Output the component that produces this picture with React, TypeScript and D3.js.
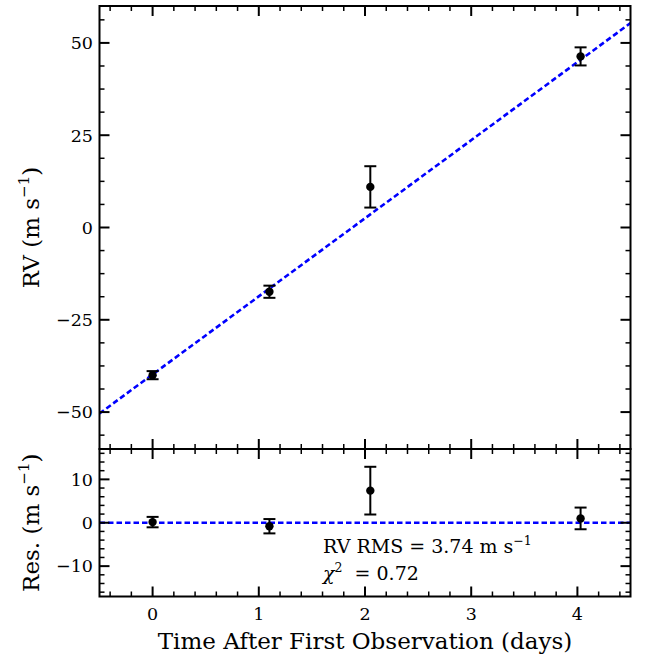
import React from "react";
import * as d3 from "d3";

// ---- data ----
const obsTime = [0, 1.1, 2.05, 4.03];
const rvValues = [-40.0, -17.4, 11.0, 46.35];
const rvErrors = [1.1, 1.65, 5.6, 2.45];
const resValues = [0.15, -0.8, 7.4, 1.0];
const resErrors = [1.2, 1.65, 5.5, 2.5];
const fitIntercept = -39.8;
const fitSlope = 21.15;
const xTicks = [0, 1, 2, 3, 4];
const rvTicks = [-50, -25, 0, 25, 50];
const resTicks = [-10, 0, 10];
const xDomain = [-0.5, 4.5];
const rvDomain = [-60, 60];
const resDomain = [-17, 17];

const W = 664;
const H = 664;
const L = 99.5;
const R = 630.5;
const T = 6;
const M = 449;
const B = 596.5;
const FONT = "'DejaVu Serif', serif";

const fmt = (v: number) => (v < 0 ? "\u2212" + Math.abs(v) : String(v));

export default function App() {
  const x = d3.scaleLinear().domain(xDomain).range([L, R]);
  const yTop = d3.scaleLinear().domain(rvDomain).range([M, T]);
  const yBot = d3.scaleLinear().domain(resDomain).range([B, M]);

  const xMinor = d3.range(-0.4, 4.5, 0.2).filter((v) => Math.abs(v - Math.round(v)) > 0.01);
  const rvMinor = d3.range(-56.25, 60, 6.25).filter((v) => Math.abs(v % 25) > 0.01);
  const resMinor = d3.range(-16, 17, 2).filter((v) => Math.abs(v % 10) > 0.01);

  const fitLine = d3
    .line<number>()
    .x((t) => x(t))
    .y((t) => yTop(fitIntercept + fitSlope * t));

  const MAJ = 10;
  const MIN = 5;

  const xTickMarks = (y0: number, y1: number) => (
    <g stroke="#000">
      {xTicks.map((t) => (
        <g key={"M" + t} strokeWidth={2}>
          <line x1={x(t)} x2={x(t)} y1={y0} y2={y0 + MAJ} />
          <line x1={x(t)} x2={x(t)} y1={y1} y2={y1 - MAJ} />
        </g>
      ))}
      {xMinor.map((t) => (
        <g key={"m" + t} strokeWidth={1.5}>
          <line x1={x(t)} x2={x(t)} y1={y0} y2={y0 + MIN} />
          <line x1={x(t)} x2={x(t)} y1={y1} y2={y1 - MIN} />
        </g>
      ))}
    </g>
  );

  const yTickMarks = (scale: d3.ScaleLinear<number, number>, major: number[], minor: number[]) => (
    <g stroke="#000">
      {major.map((v) => (
        <g key={"M" + v} strokeWidth={2}>
          <line x1={L} x2={L + MAJ} y1={scale(v)} y2={scale(v)} />
          <line x1={R} x2={R - MAJ} y1={scale(v)} y2={scale(v)} />
        </g>
      ))}
      {minor.map((v) => (
        <g key={"m" + v} strokeWidth={1.5}>
          <line x1={L} x2={L + MIN} y1={scale(v)} y2={scale(v)} />
          <line x1={R} x2={R - MIN} y1={scale(v)} y2={scale(v)} />
        </g>
      ))}
    </g>
  );

  const errBars = (
    scale: d3.ScaleLinear<number, number>,
    vals: number[],
    errs: number[]
  ) => (
    <g>
      {obsTime.map((t, i) => {
        const cx = x(t);
        const y1 = scale(vals[i] + errs[i]);
        const y2 = scale(vals[i] - errs[i]);
        return (
          <g key={i} stroke="#000" strokeWidth={2}>
            <line x1={cx} x2={cx} y1={y1} y2={y2} />
            <line x1={cx - 6} x2={cx + 6} y1={y1} y2={y1} />
            <line x1={cx - 6} x2={cx + 6} y1={y2} y2={y2} />
            <circle cx={cx} cy={scale(vals[i])} r={4.2} fill="#000" stroke="none" />
          </g>
        );
      })}
    </g>
  );

  return (
    <svg
      width={W}
      height={H}
      style={{ position: "absolute", left: 0, top: 0, background: "#fff" }}
      fontFamily={FONT}
    >
      <defs>
        <clipPath id="clipTop">
          <rect x={L} y={T} width={R - L} height={M - T} />
        </clipPath>
        <clipPath id="clipBot">
          <rect x={L} y={M} width={R - L} height={B - M} />
        </clipPath>
      </defs>
      <rect x={0} y={0} width={W} height={H} fill="#fff" />

      {/* top panel */}
      <path
        d={fitLine(xDomain) || ""}
        fill="none"
        stroke="#0000ff"
        strokeWidth={2.6}
        strokeDasharray="5.5,3"
        clipPath="url(#clipTop)"
      />
      {errBars(yTop, rvValues, rvErrors)}

      {/* bottom panel */}
      <line
        x1={x(xDomain[0])}
        x2={x(xDomain[1])}
        y1={yBot(0)}
        y2={yBot(0)}
        stroke="#0000ff"
        strokeWidth={2.6}
        strokeDasharray="5.5,3"
        clipPath="url(#clipBot)"
      />
      {errBars(yBot, resValues, resErrors)}

      {/* ticks */}
      {xTickMarks(T, M)}
      {xTickMarks(M, B)}
      {yTickMarks(yTop, rvTicks, rvMinor)}
      {yTickMarks(yBot, resTicks, resMinor)}

      {/* frames */}
      <rect x={L} y={T} width={R - L} height={M - T} fill="none" stroke="#000" strokeWidth={2} />
      <rect x={L} y={M} width={R - L} height={B - M} fill="none" stroke="#000" strokeWidth={2} />

      {/* tick labels */}
      <g fontSize={17.5} fill="#000">
        {rvTicks.map((v) => (
          <text key={v} x={L - 6.5} y={yTop(v)} dy="0.36em" textAnchor="end">
            {fmt(v)}
          </text>
        ))}
        {resTicks.map((v) => (
          <text key={v} x={L - 6.5} y={yBot(v)} dy="0.36em" textAnchor="end">
            {fmt(v)}
          </text>
        ))}
        {xTicks.map((t) => (
          <text key={t} x={x(t)} y={620} textAnchor="middle">
            {fmt(t)}
          </text>
        ))}
      </g>

      {/* axis labels */}
      <g fontSize={23} fill="#000">
        <text transform={`translate(39, ${(T + M) / 2}) rotate(-90)`} textAnchor="middle">
          RV (m s
          <tspan fontSize={15} dy={-10}>
            {"\u22121"}
          </tspan>
          <tspan dy={10}>)</tspan>
        </text>
        <text transform={`translate(39, ${(M + B) / 2}) rotate(-90)`} textAnchor="middle">
          Res. (m s
          <tspan fontSize={15} dy={-10}>
            {"\u22121"}
          </tspan>
          <tspan dy={10}>)</tspan>
        </text>
        <text x={(L + R) / 2} y={649} textAnchor="middle">
          Time After First Observation (days)
        </text>
      </g>

      {/* annotation */}
      <g fontSize={19} fill="#000">
        <text x={323} y={553}>
          RV RMS = 3.74 m s
          <tspan fontSize={12.5} dy={-8}>
            {"\u22121"}
          </tspan>
        </text>
        <text x={323} y={579.5}>
          <tspan fontStyle="italic">{"\u03c7"}</tspan>
          <tspan fontSize={12.5} dy={-8}>
            2
          </tspan>
          <tspan dy={8}>{"\u00a0 = 0.72"}</tspan>
        </text>
      </g>
    </svg>
  );
}
